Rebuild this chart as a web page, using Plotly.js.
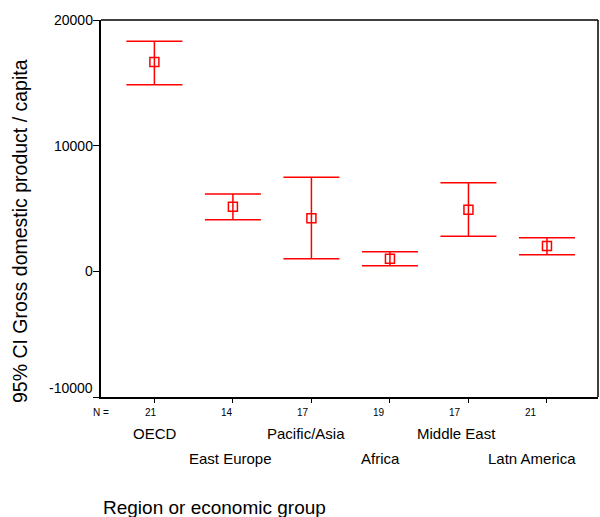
<!DOCTYPE html>
<html>
<head>
<meta charset="utf-8">
<script src="https://cdn.plot.ly/plotly-3.0.1.min.js"></script>
<style>html,body{margin:0;padding:0;background:#fff}#chart{width:600px;height:517px}</style>
</head>
<body>
<div id="chart"></div>
<script>
var categories = ["OECD", "East Europe", "Pacific/Asia", "Africa", "Middle East", "Latn America"];
var counts = [21, 14, 17, 19, 17, 21];
var means = [16650, 5140, 4220, 1000, 4900, 2010];
var upper = [18300, 6160, 7490, 1560, 7040, 2680];
var lower = [14840, 4110, 1000, 440, 2790, 1320];
var yTicks = [-10000, 0, 10000, 20000];

var idx = categories.map(function(c, i){ return i; });
var errPlus = means.map(function(m, i){ return upper[i] - m; });
var errMinus = means.map(function(m, i){ return m - lower[i]; });

var trace = {
  x: idx, y: means, type: 'scatter', mode: 'markers',
  marker: {symbol: 'square-open', size: 9, color: '#ff0000', line: {width: 1.5, color: '#ff0000'}},
  error_y: {type: 'data', array: errPlus, arrayminus: errMinus, symmetric: false,
            color: '#ff0000', thickness: 1.5, width: 28},
  hoverinfo: 'skip', showlegend: false
};

// the label rows below the axis are laid out on a slightly tighter spacing than the marks
var countSpacing = 0.968, countOffset = -0.042;
var labelSpacing = 0.961, labelOffset = 0.003;

var fontBase = 'Arial, "Liberation Sans", sans-serif';
var annotations = [];
yTicks.forEach(function(v){
  annotations.push({xref: 'paper', yref: 'y', x: 0, y: v, xanchor: 'right', yanchor: 'middle',
    xshift: -6, yshift: (v === yTicks[0]) ? 9 : 0, text: String(v), showarrow: false,
    font: {family: fontBase, size: 14, color: '#000'}});
});
annotations.push({xref: 'paper', yref: 'paper', x: (111 - 101) / 497, y: 0, xanchor: 'right', yanchor: 'middle',
  yshift: -15, text: 'N =', showarrow: false, font: {family: fontBase, size: 10, color: '#000'}});
idx.forEach(function(i){
  annotations.push({xref: 'x', yref: 'paper', x: countOffset + i * countSpacing, y: 0, xanchor: 'center', yanchor: 'middle',
    yshift: -15, text: String(counts[i]), showarrow: false, font: {family: fontBase, size: 10, color: '#000'}});
  annotations.push({xref: 'x', yref: 'paper', x: labelOffset + i * labelSpacing, y: 0, xanchor: 'center', yanchor: 'middle',
    yshift: (i % 2 === 0) ? -36 : -61, text: categories[i], showarrow: false,
    font: {family: fontBase, size: 15, color: '#000'}});
});
annotations.push({xref: 'paper', yref: 'paper', x: 0, y: 0, xanchor: 'left', yanchor: 'middle',
  yshift: -110, text: 'Region or economic group', showarrow: false,
  font: {family: fontBase, size: 19, color: '#000'}});
annotations.push({xref: 'paper', yref: 'paper', x: (20 - 101) / 497, y: (397 - 231) / 377,
  xanchor: 'center', yanchor: 'middle', textangle: -90,
  text: '95% CI Gross domestic product / capita', showarrow: false,
  font: {family: fontBase, size: 19.5, color: '#000'}});

var layout = {
  width: 600, height: 517,
  margin: {l: 101, r: 2, t: 20, b: 120, pad: 0},
  paper_bgcolor: '#fff', plot_bgcolor: '#fff',
  font: {family: fontBase, color: '#000'},
  xaxis: {range: [-0.68, 5.65], tickvals: idx, showticklabels: false, ticks: 'outside', ticklen: 4,
          tickwidth: 1, tickcolor: '#000', showgrid: false, zeroline: false,
          showline: true, linecolor: '#000', linewidth: 2, fixedrange: true},
  yaxis: {range: [-10000, 20000], tickvals: yTicks, showticklabels: false, ticks: 'outside',
          ticklen: 6, tickwidth: 1, tickcolor: '#000', showgrid: false, zeroline: false,
          showline: true, linecolor: '#000', linewidth: 2, fixedrange: true},
  shapes: [
    {type: 'line', xref: 'paper', yref: 'paper', x0: 0, x1: 1, y0: 1, y1: 1, line: {color: '#000', width: 1.5}},
    {type: 'line', xref: 'paper', yref: 'paper', x0: 1, x1: 1, y0: 0, y1: 1, line: {color: '#000', width: 1.5}}
  ],
  annotations: annotations
};

Plotly.newPlot('chart', [trace], layout, {displayModeBar: false, staticPlot: true});
</script>
</body>
</html>
